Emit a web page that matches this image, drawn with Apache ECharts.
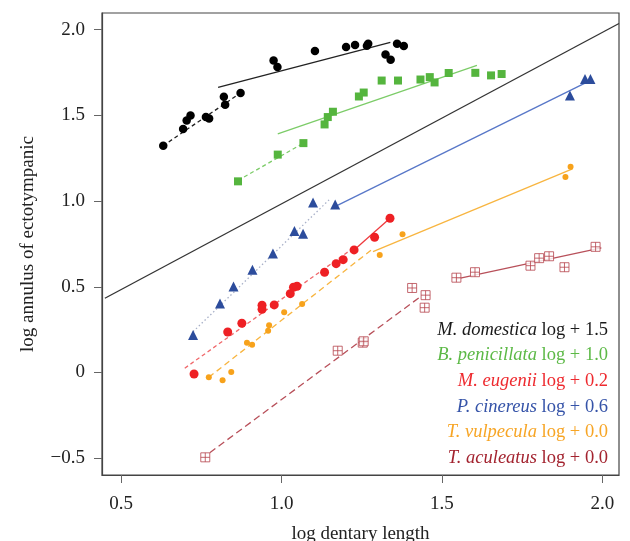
<!DOCTYPE html>
<html>
<head>
<meta charset="utf-8">
<script src="https://cdn.jsdelivr.net/npm/echarts@6/dist/echarts.min.js"></script>
<style>
html,body{margin:0;padding:0;background:#fff;}
#main{width:630px;height:541px;}
</style>
</head>
<body>
<div id="main"></div>
<script>
// plotted values (offsets from the legend already included)
var xTicks = [0.5, 1.0, 1.5, 2.0];
var yTicks = [-0.5, 0, 0.5, 1.0, 1.5, 2.0];

var domesticaPts = [[0.631,1.322],[0.693,1.420],[0.704,1.470],[0.716,1.499],[0.764,1.490],[0.774,1.482],
    [0.820,1.608],[0.824,1.562],[0.872,1.630],[0.975,1.820],[0.987,1.782],[1.104,1.875],[1.201,1.898],
    [1.229,1.910],[1.266,1.906],[1.270,1.918],[1.324,1.855],[1.340,1.824],[1.360,1.918],[1.381,1.904]];
var domesticaDash = [[0.630,1.322],[0.873,1.632]];
var domesticaFit = [[0.802,1.663],[1.339,1.925]];

var penicillataPts = [[0.864,1.115],[0.988,1.271],[1.068,1.338],[1.134,1.447],[1.144,1.490],[1.160,1.521],
    [1.241,1.610],[1.256,1.633],[1.312,1.703],[1.363,1.703],[1.433,1.709],[1.462,1.723],[1.477,1.692],
    [1.521,1.747],[1.604,1.748],[1.653,1.733],[1.686,1.741]];
var penicillataDash = [[0.864,1.120],[1.068,1.338]];
var penicillataFit = [[0.988,1.392],[1.609,1.791]];

var eugeniiPts = [[0.727,-0.009],[0.832,0.236],[0.876,0.287],[0.939,0.392],[0.939,0.369],[0.977,0.394],
    [1.027,0.460],[1.037,0.497],[1.048,0.503],[1.134,0.585],[1.170,0.635],[1.192,0.658],[1.226,0.715],
    [1.290,0.789],[1.338,0.900]];
var eugeniiDash = [[0.698,0.025],[1.223,0.725]];
var eugeniiFit = [[1.226,0.715],[1.338,0.900]];

var cinereusPts = [[0.724,0.219],[0.808,0.402],[0.850,0.501],[0.909,0.600],[0.973,0.694],[1.040,0.826],
    [1.067,0.810],[1.098,0.991],[1.167,0.980],[1.899,1.616],[1.946,1.712],[1.963,1.712]];
var cinereusDot = [[0.724,0.238],[1.148,1.007]];
var cinereusFit = [[1.171,0.972],[1.946,1.688]];

var vulpeculaPts = [[0.773,-0.028],[0.816,-0.046],[0.843,0.003],[0.892,0.174],[0.908,0.162],[0.958,0.244],
    [0.961,0.276],[1.008,0.351],[1.064,0.400],[1.306,0.686],[1.377,0.807],[1.885,1.141],[1.901,1.200]];
var vulpeculaDash = [[0.773,-0.028],[1.280,0.715]];
var vulpeculaFit = [[1.285,0.705],[1.907,1.188]];

var aculeatusPts = [[0.762,-0.495],[1.175,0.127],[1.253,0.174],[1.256,0.182],[1.407,0.493],[1.449,0.451],
    [1.446,0.378],[1.545,0.553],[1.603,0.585],[1.776,0.623],[1.803,0.667],[1.834,0.678],[1.882,0.614],
    [1.979,0.733]];
var aculeatusDash = [[0.776,-0.468],[1.437,0.448]];
var aculeatusFit = [[1.543,0.544],[1.997,0.727]];

var isometry = [[0.449,0.433],[2.052,2.036]];

var legendNames = ['M. domestica', 'B. penicillata', 'M. eugenii', 'P. cinereus', 'T. vulpecula', 'T. aculeatus'];
var legendOffsets = ['1.5', '1.0', '0.2', '0.6', '0.0', '0.0'];
var legendColors = ['#1a1a1a', '#5cb946', '#ee2a2f', '#3553a8', '#f7a525', '#a3232f'];

var serif = "'Liberation Serif', 'Times New Roman', serif";

function fmt(v) {
    if (v === 0) return '0';
    var s = Math.abs(v).toFixed(1);
    return v < 0 ? '\u2212' + s : s;
}

function lineSeries(data, color, type, width) {
    return {
        type: 'line', data: data, symbol: 'none', silent: true, z: 2,
        lineStyle: {color: color, width: width || 1.3, type: type}
    };
}

function pointSeries(data, color, symbol, size, extra) {
    var s = {
        type: 'scatter', data: data, symbol: symbol, symbolSize: size, z: 5,
        itemStyle: {color: color, opacity: 1}
    };
    if (extra) s.itemStyle = extra;
    return s;
}

var graphics = [];
for (var i = 0; i < legendNames.length; i++) {
    graphics.push({
        type: 'text',
        style: {
            x: 608, y: 330 + i * 25.6,
            text: '{i|' + legendNames[i] + '} log + ' + legendOffsets[i],
            align: 'right', verticalAlign: 'middle',
            fill: legendColors[i], fontSize: 18.5, fontFamily: serif,
            rich: {i: {fontStyle: 'italic', fontSize: 18.5, fontFamily: serif, fill: legendColors[i]}}
        }
    });
}

var option = {
    animation: false,
    grid: {left: 102, right: 11, top: 13, bottom: 66, outerBoundsMode: 'none',
        show: true, borderColor: '#444', borderWidth: 1.2},
    xAxis: {
        type: 'value', min: 0.44, max: 2.052,
        name: 'log dentary length', nameLocation: 'middle', nameGap: 50,
        nameTextStyle: {fontFamily: serif, fontSize: 19, color: '#222'},
        axisLine: {show: true, onZero: false, lineStyle: {color: '#444', width: 1.2}},
        axisTick: {show: true, length: 8, customValues: xTicks, lineStyle: {color: '#666'}},
        axisLabel: {customValues: xTicks, formatter: fmt, margin: 20, fontFamily: serif, fontSize: 19, color: '#222'},
        splitLine: {show: false}
    },
    yAxis: {
        type: 'value', min: -0.598, max: 2.097,
        name: 'log annulus of ectotympanic', nameLocation: 'middle', nameGap: 64, nameRotate: 90,
        nameTextStyle: {fontFamily: serif, fontSize: 19, color: '#222'},
        axisLine: {show: true, onZero: false, lineStyle: {color: '#444', width: 1.2}},
        axisTick: {show: true, length: 8, customValues: yTicks, lineStyle: {color: '#666'}},
        axisLabel: {customValues: yTicks, formatter: fmt, margin: 17, fontFamily: serif, fontSize: 19, color: '#222'},
        splitLine: {show: false}
    },
    graphic: graphics,
    series: [
        lineSeries(isometry, '#333', 'solid', 1.3),
        lineSeries(domesticaDash, '#222', [4, 3]),
        lineSeries(domesticaFit, '#222', 'solid'),
        lineSeries(penicillataDash, '#7ccc68', [4, 3]),
        lineSeries(penicillataFit, '#7ccc68', 'solid'),
        lineSeries(eugeniiDash, '#f0686b', [4, 3]),
        lineSeries(eugeniiFit, '#ee3a3e', 'solid'),
        lineSeries(cinereusDot, '#a8b0c8', [1.5, 2.5]),
        lineSeries(cinereusFit, '#5877c8', 'solid'),
        lineSeries(vulpeculaDash, '#f8b540', [6, 4]),
        lineSeries(vulpeculaFit, '#f8b540', 'solid'),
        lineSeries(aculeatusDash, '#b8505a', [7, 4]),
        lineSeries(aculeatusFit, '#b8505a', 'solid'),
        pointSeries(domesticaPts, '#000', 'circle', 8.5),
        pointSeries(penicillataPts, '#55b53e', 'rect', 8),
        pointSeries(eugeniiPts, '#ee2024', 'circle', 9),
        pointSeries(cinereusPts, '#2c4c9c', 'triangle', 10),
        pointSeries(vulpeculaPts, '#f7a21b', 'circle', 6),
        pointSeries(aculeatusPts, null, 'path://M0,0H10V10H0Z M5,0V10 M0,5H10', 9,
            {color: '#fff', borderColor: '#b5434c', borderWidth: 1})
    ]
};

var chart = echarts.init(document.getElementById('main'));
chart.setOption(option);
</script>
</body>
</html>
